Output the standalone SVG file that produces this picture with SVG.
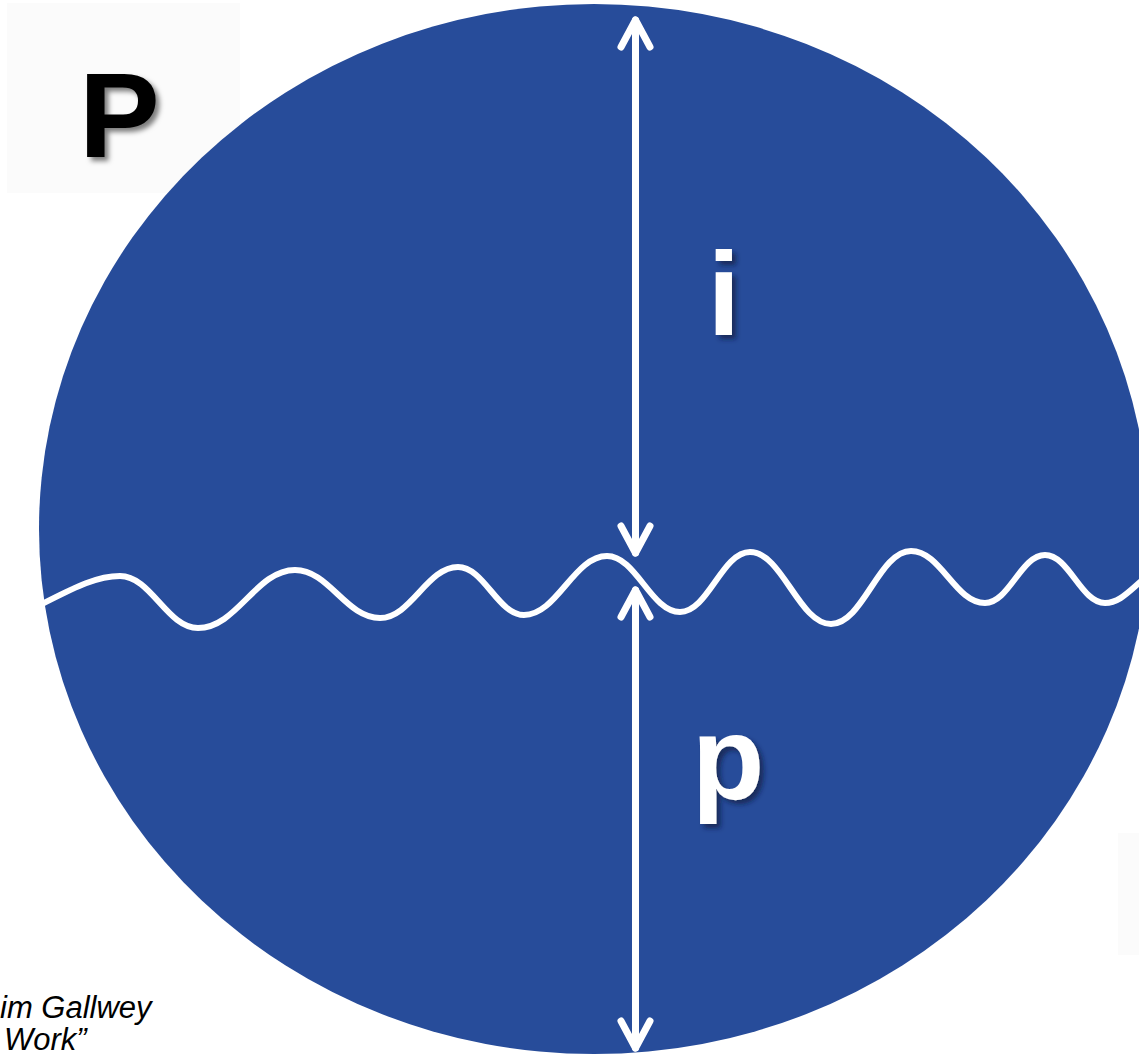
<svg xmlns="http://www.w3.org/2000/svg" width="1139" height="1055" viewBox="0 0 1139 1055">
  <style>
    .bg { fill: #ffffff; }
    .panel { fill: #fbfbfb; }
    .disc { fill: #274c9a; }
    .arrow { fill: none; stroke: #ffffff; stroke-width: 7; stroke-linecap: round; stroke-linejoin: round; }
    .wave { fill: none; stroke: #ffffff; stroke-width: 6; stroke-linecap: round; }
    .big { font-family: "Liberation Sans", Arial, sans-serif; font-weight: bold; }
    .cap { font-family: "Liberation Sans", Arial, sans-serif; font-style: italic; font-size: 31px; fill: #000000; }
  </style>
  <defs>
    <filter id="shadow" x="-30%" y="-30%" width="160%" height="160%">
      <feDropShadow dx="4" dy="4" stdDeviation="2.5" flood-color="#000000" flood-opacity="0.5"/>
    </filter>
    <filter id="shadowDark" x="-30%" y="-30%" width="160%" height="160%">
      <feDropShadow dx="4" dy="4" stdDeviation="2.5" flood-color="#0a1a40" flood-opacity="0.7"/>
    </filter>
  </defs>
  <rect class="bg" x="0" y="0" width="1139" height="1055"/>
  <rect class="panel" x="7" y="3" width="233" height="190"/>
  <rect class="panel" x="1118" y="833" width="21" height="122"/>

  <g id="disc">
    <ellipse class="disc" cx="594" cy="529" rx="555" ry="525"/>
  </g>

  <g id="title-P">
    <text class="big" x="79" y="157" font-size="121" fill="#000000" filter="url(#shadow)">P</text>
  </g>

  <g id="wave">
    <path class="wave" d="M42,604 C70,590 95,576 120,576 C151,576 167,628 198,628 C237,628 256,570 295,570 C329,570 346,618 380,618 C411,618 427,567 458,567 C484,567 498,615 524,615 C557,615 574,556 607,556 C636,556 651,612 680,612 C708,612 722,552 750,552 C782,552 799,624 831,624 C863,624 879,551 911,551 C941,551 955,603 985,603 C1009,603 1021,555 1045,555 C1069,555 1081,603 1105,603 C1120,603 1130,590 1145,578"/>
  </g>

  <g id="connectors">
    <line class="arrow" x1="635.5" y1="20" x2="635.5" y2="553"/>
    <polyline class="arrow" points="621,47 635.5,20 650,47"/>
    <polyline class="arrow" points="621,526 635.5,553 650,526"/>
    <line class="arrow" x1="635.5" y1="590" x2="635.5" y2="1048"/>
    <polyline class="arrow" points="621,617 635.5,590 650,617"/>
    <polyline class="arrow" points="621,1021 635.5,1048 650,1021"/>
  </g>

  <g id="label-i">
    <text class="big" x="724" y="335" font-size="118" fill="#ffffff" text-anchor="middle" filter="url(#shadowDark)">i</text>
  </g>
  <g id="label-p">
    <text class="big" x="728" y="799" font-size="119" fill="#ffffff" text-anchor="middle" filter="url(#shadowDark)">p</text>
  </g>

  <g id="caption">
    <text class="cap" x="0" y="1018">im Gallwey</text>
    <text class="cap" x="4" y="1050">Work”</text>
  </g>
</svg>
